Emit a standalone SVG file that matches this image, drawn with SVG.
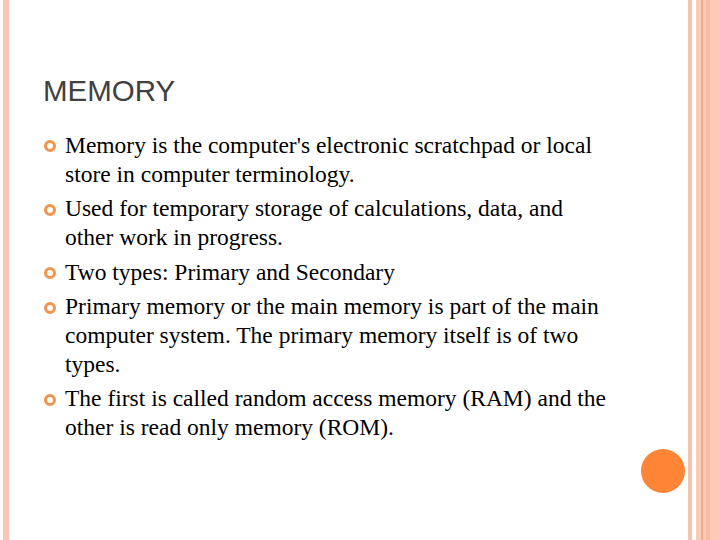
<svg xmlns="http://www.w3.org/2000/svg" width="720" height="540" viewBox="0 0 720 540">
<style>
.t{font-family:"Liberation Serif",serif;font-size:23.5px;fill:#000}
.b{fill:none;stroke:#f0954f;stroke-width:3}
</style>
<rect width="720" height="540" fill="#fff"/>
<rect x="3" y="0" width="6" height="540" fill="#fbc7b4"/>
<rect x="688" y="0" width="4" height="540" fill="#f7c3b0"/>
<rect x="696" y="0" width="24" height="540" fill="#fdcab7"/>
<rect x="706" y="0" width="4" height="540" fill="#f9bba5"/>
<rect x="701.5" y="0" width="1" height="540" fill="#e0936b"/>
<circle cx="663" cy="471" r="22" fill="#fd8535"/>
<text x="43" y="101" font-family="Liberation Sans,sans-serif" font-size="29.5" fill="#404040">MEMORY</text>
<g id="bullets">
<circle class="b" cx="50" cy="146" r="4.5"/>
<circle class="b" cx="50" cy="210" r="4.5"/>
<circle class="b" cx="50" cy="273" r="4.5"/>
<circle class="b" cx="50" cy="308" r="4.5"/>
<circle class="b" cx="50" cy="400" r="4.5"/>
</g>
<g id="text">
<text class="t" x="65" y="153">Memory is the computer's electronic scratchpad or local</text>
<text class="t" x="65" y="182">store in computer terminology.</text>
<text class="t" x="65" y="216">Used for temporary storage of calculations, data, and</text>
<text class="t" x="65" y="245">other work in progress.</text>
<text class="t" x="65" y="280">Two types: Primary and Secondary</text>
<text class="t" x="65" y="314">Primary memory or the main memory is part of the main</text>
<text class="t" x="65" y="343">computer system. The primary memory itself is of two</text>
<text class="t" x="65" y="372">types.</text>
<text class="t" x="65" y="406">The first is called random access memory (RAM) and the</text>
<text class="t" x="65" y="435">other is read only memory (ROM).</text>
</g>
</svg>
